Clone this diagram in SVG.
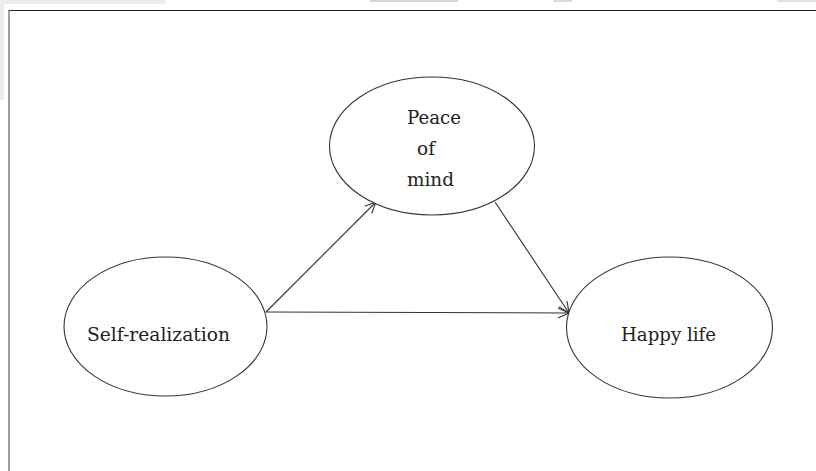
<svg xmlns="http://www.w3.org/2000/svg" width="816" height="471" viewBox="0 0 816 471">
  <style>
    .node ellipse { fill: #ffffff; stroke: #333333; stroke-width: 1.1; }
    .node text { font-family: "DejaVu Serif", "Liberation Serif", serif; font-size: 18.5px; fill: #222222; }
    .edge { stroke: #333333; stroke-width: 1.1; fill: none; marker-end: url(#arrow); }
  </style>
  <defs>
    <marker id="arrow" markerUnits="userSpaceOnUse" markerWidth="14" markerHeight="12" refX="12" refY="6" orient="auto">
      <path d="M1,1 L12,6 L1,11" fill="none" stroke="#333333" stroke-width="1.1"/>
    </marker>
  </defs>
  <rect x="0" y="0" width="816" height="471" fill="#ffffff"/>
  <g id="page-artifacts">
    <rect x="0" y="0" width="165" height="4" fill="#ececec"/>
    <rect x="0" y="0" width="4" height="100" fill="#ececec"/>
    <rect x="370" y="0" width="88" height="2" fill="#d4d4d4"/>
    <rect x="553" y="0" width="19" height="2" fill="#dddddd"/>
    <rect x="777" y="0" width="39" height="2" fill="#e2e2e2"/>
  </g>
  <g id="frame">
    <line x1="8" y1="10.5" x2="816" y2="10.5" stroke="#222222" stroke-width="1.2"/>
    <line x1="9" y1="10" x2="9" y2="471" stroke="#888888" stroke-width="1.6"/>
  </g>
  <g id="connectors">
    <line class="edge" x1="266" y1="312" x2="376" y2="202"/>
    <line class="edge" x1="266" y1="312" x2="569" y2="313"/>
    <line class="edge" x1="495" y1="202" x2="569" y2="313"/>
  </g>
  <g id="peace-of-mind" class="node">
    <ellipse cx="432" cy="146" rx="102.5" ry="69"/>
    <text x="407" y="124" textLength="54" lengthAdjust="spacingAndGlyphs">Peace</text>
    <text x="417" y="155" textLength="18" lengthAdjust="spacingAndGlyphs">of</text>
    <text x="407" y="186" textLength="47" lengthAdjust="spacingAndGlyphs">mind</text>
  </g>
  <g id="self-realization" class="node">
    <ellipse cx="165.5" cy="326.5" rx="101.5" ry="69.5"/>
    <text x="87" y="341" textLength="143" lengthAdjust="spacingAndGlyphs">Self-realization</text>
  </g>
  <g id="happy-life" class="node">
    <ellipse cx="669.5" cy="327.5" rx="103" ry="70.5"/>
    <text x="621" y="341" textLength="95" lengthAdjust="spacingAndGlyphs">Happy life</text>
  </g>
</svg>
